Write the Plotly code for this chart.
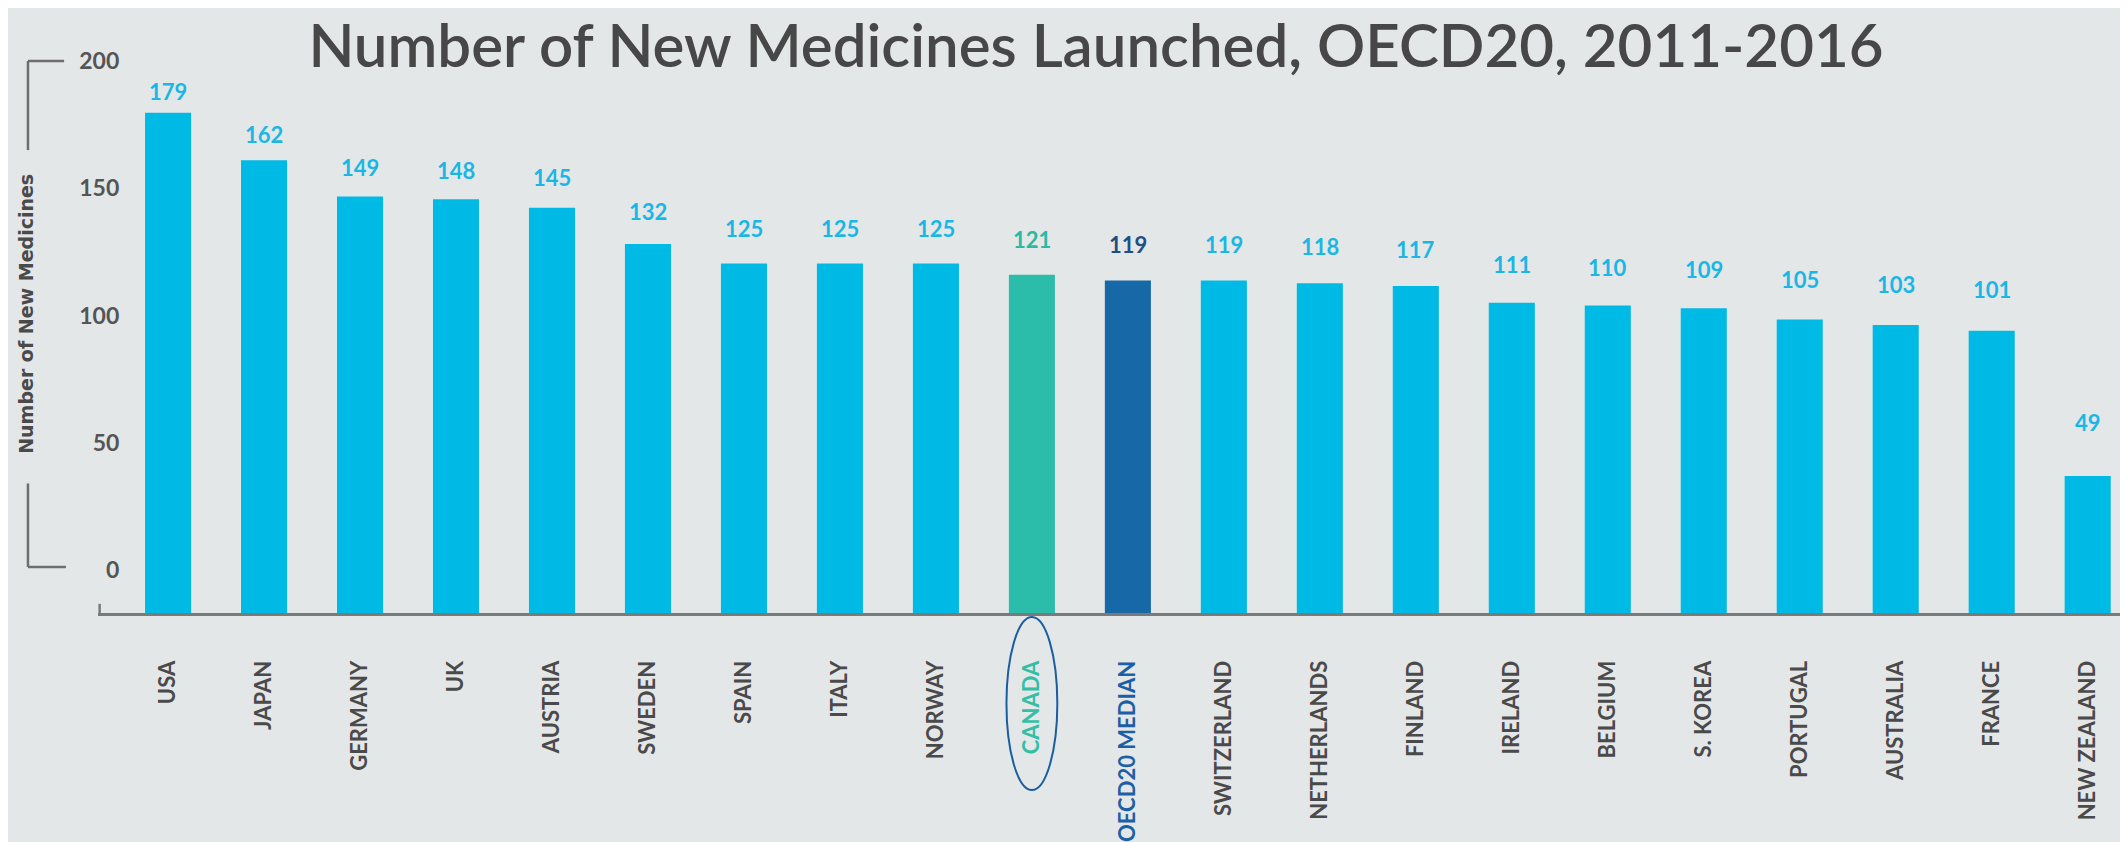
import plotly.graph_objects as go

# ---------------- data ----------------
countries = ["USA", "JAPAN", "GERMANY", "UK", "AUSTRIA", "SWEDEN", "SPAIN", "ITALY",
             "NORWAY", "CANADA", "OECD20 MEDIAN", "SWITZERLAND", "NETHERLANDS",
             "FINLAND", "IRELAND", "BELGIUM", "S. KOREA", "PORTUGAL", "AUSTRALIA",
             "FRANCE", "NEW ZEALAND"]
values = [179, 162, 149, 148, 145, 132, 125, 125, 125, 121, 119, 119, 118, 117,
          111, 110, 109, 105, 103, 101, 49]
y_ticks = [0, 50, 100, 150, 200]
title_text = "Number of New Medicines Launched, OECD20, 2011-2016"
y_title = "Number of New Medicines"
highlight = "CANADA"
median_name = "OECD20 MEDIAN"

# ---------------- styles ----------------
BG = "#E4E7E8"
CYAN = "#00BAE6"
TEAL = "#2BBDAA"
NAVY = "#1668A6"
LBL_CYAN = "#1AB6E4"
LBL_TEAL = "#2BB9A3"
LBL_NAVY = "#1F4E86"
GREY = "#4A4A4A"
LINE = "#7A7A7A"

bar_colors = [TEAL if c == highlight else NAVY if c == median_name else CYAN for c in countries]
label_colors = [LBL_TEAL if c == highlight else LBL_NAVY if c == median_name else LBL_CYAN for c in countries]


def tick_txt(c):
    if c == highlight:
        return f'<span style="color:#33BFA6">{c}</span>'
    if c == median_name:
        return f'<span style="color:#1D5FA6">{c}</span>'
    return c


fig = go.Figure()
fig.add_trace(go.Bar(x=countries, y=values, marker=dict(color=bar_colors, line=dict(width=0)),
                     showlegend=False, hoverinfo="x+y"))
# scale used by the printed axis and the value labels
fig.add_trace(go.Scatter(x=countries, y=values, yaxis="y2", mode="none",
                         showlegend=False, hoverinfo="skip"))

for c, v, col in zip(countries, values, label_colors):
    fig.add_annotation(x=c, y=v, xref="x", yref="y2", yshift=23, text=str(v), showarrow=False,
                       font=dict(family="Lato", size=22, color=col, weight="bold"))

fig.add_annotation(x=-0.0355, y=0.522, xref="paper", yref="paper", xanchor="center", yanchor="middle",
                   text=y_title, textangle=-90, showarrow=False,
                   font=dict(family="DejaVu Sans", size=19, color="#4A4A4A", weight="bold"))

# bracket decorations around the axis title
bx, bx_end_top, bx_end_bot = -0.0345, -0.0167, -0.0158
for (x0, y0, x1, y1) in [(bx, 200, bx_end_top, 200), (bx, 200, bx, 165),
                         (bx, 34, bx, 1.2), (bx, 1.2, bx_end_bot, 1.2)]:
    fig.add_shape(type="line", xref="paper", yref="y2", x0=x0, y0=y0, x1=x1, y1=y1,
                  line=dict(color="#6E6E6E", width=2.5))

# small tick at axis start
fig.add_shape(type="line", xref="paper", yref="paper", x0=0.0008, x1=0.0008, y0=0, y1=0.016,
              line=dict(color=LINE, width=2.5))

# ellipse around Canada label
ci = countries.index(highlight)
fig.add_shape(type="circle", xref="x", yref="paper", x0=ci - 0.265, x1=ci + 0.265,
              y0=-0.309, y1=-0.007, line=dict(color="#1B5EA0", width=2))

fig.update_layout(
    width=2120, height=834,
    margin=dict(l=90, r=0, t=32, b=229, autoexpand=False),
    paper_bgcolor=BG, plot_bgcolor=BG,
    bargap=0.52,
    title=dict(text=title_text, x=0.5132, xanchor="center", y=0.955, yanchor="middle",
               font=dict(family="Lato", size=60, color="#474747", weight=600)),
    xaxis=dict(type="category", range=[-0.73, 20.42], showline=True, linecolor=LINE, linewidth=3,
               ticks="", tickangle=-90, tickmode="array", tickvals=countries,
               ticktext=[tick_txt(c) for c in countries], ticklabelstandoff=36,
               tickfont=dict(family="Lato", size=22, color=GREY, weight="bold"),
               showgrid=False, zeroline=False, automargin=False),
    yaxis=dict(range=[0, 205.0], showticklabels=False, showgrid=False, zeroline=False,
               showline=False, ticks="", automargin=False),
    yaxis2=dict(overlaying="y", anchor="free", position=0.0105, side="left",
                range=[-16.9, 208.25], tickmode="array", tickvals=y_ticks,
                tickfont=dict(family="Lato", size=23, color="#555555", weight="bold"),
                showgrid=False, zeroline=False, showline=False, ticks="", automargin=False),
    showlegend=False,
)

fig.write_html("out.html")
